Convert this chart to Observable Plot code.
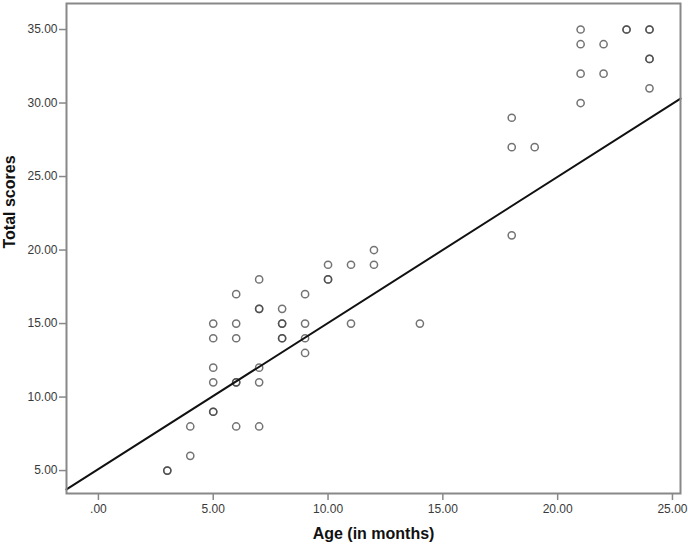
<!DOCTYPE html>
<html>
<head>
<meta charset="utf-8">
<script src="https://cdn.jsdelivr.net/npm/d3@7"></script>
<script src="https://cdn.jsdelivr.net/npm/@observablehq/plot@0.6"></script>
<style>
  html, body { margin: 0; padding: 0; background: #fff; }
</style>
</head>
<body>
<div id="chart"></div>
<script>
// Age (in months) of each observation
const ages = [
  3, 3,
  4, 4,
  5, 5, 5, 5, 5, 5,
  6, 6, 6, 6, 6, 6,
  7, 7, 7, 7, 7, 7,
  8, 8, 8, 8, 8,
  9, 9, 9, 9,
  10, 10, 10,
  11, 11,
  12, 12,
  14,
  18, 18, 18,
  19,
  21, 21, 21, 21,
  22, 22,
  23, 23,
  24, 24, 24, 24, 24
];
// Total scores of each observation
const scores = [
  5, 5,
  8, 6,
  15, 14, 12, 11, 9, 9,
  17, 15, 14, 11, 11, 8,
  18, 16, 16, 12, 11, 8,
  16, 15, 15, 14, 14,
  17, 15, 14, 13,
  19, 18, 18,
  19, 15,
  20, 19,
  15,
  29, 27, 21,
  27,
  35, 34, 32, 30,
  34, 32,
  35, 35,
  35, 35, 33, 33, 31
];
// Fit line
const fitIntercept = 5.1;
const fitSlope = 0.994;

const xTicks = [0, 5, 10, 15, 20, 25];
const yTicks = [5, 10, 15, 20, 25, 30, 35];
const xDomain = [-1.39, 25.35];
const yDomain = [3.44, 36.77];
const xLabel = "Age (in months)";
const yLabel = "Total scores";

const points = ages.map((a, i) => ({age: a, score: scores[i]}));
const fitLine = xDomain.map(x => ({age: x, score: fitIntercept + fitSlope * x}));
const fmt = d => d === 0 ? ".00" : d.toFixed(2);

const chart = Plot.plot({
  width: 688,
  height: 548,
  marginLeft: 66,
  marginRight: 8,
  marginTop: 3,
  marginBottom: 55,
  style: {fontFamily: "'Liberation Sans', Arial, sans-serif", background: "white"},
  x: {domain: xDomain},
  y: {domain: yDomain},
  marks: [
    Plot.axisX({ticks: xTicks, tickFormat: fmt, tickSize: 7, tickPadding: 4, fontSize: 12,
      stroke: "#888", fill: "#3a3a3a", strokeWidth: 1.5, label: null}),
    Plot.axisY({ticks: yTicks, tickFormat: fmt, tickSize: 7, tickPadding: 2, fontSize: 12,
      stroke: "#888", fill: "#3a3a3a", strokeWidth: 1.5, label: null}),
    Plot.dot(points, {x: "age", y: "score", r: 3.6, stroke: "#444", strokeOpacity: 0.75, strokeWidth: 1.5, fill: "none"}),
    Plot.line(fitLine, {x: "age", y: "score", stroke: "#111", strokeWidth: 2}),
    Plot.frame({stroke: "#888", strokeWidth: 2}),
    Plot.text([xLabel], {text: d => d, frameAnchor: "bottom", dy: 45, fontSize: 16, fontWeight: "bold", fill: "#111"}),
    Plot.text([yLabel], {text: d => d, frameAnchor: "left", dx: -57, rotate: -90, fontSize: 16, fontWeight: "bold", fill: "#111"})
  ]
});
document.getElementById("chart").appendChild(chart);
</script>
</body>
</html>
